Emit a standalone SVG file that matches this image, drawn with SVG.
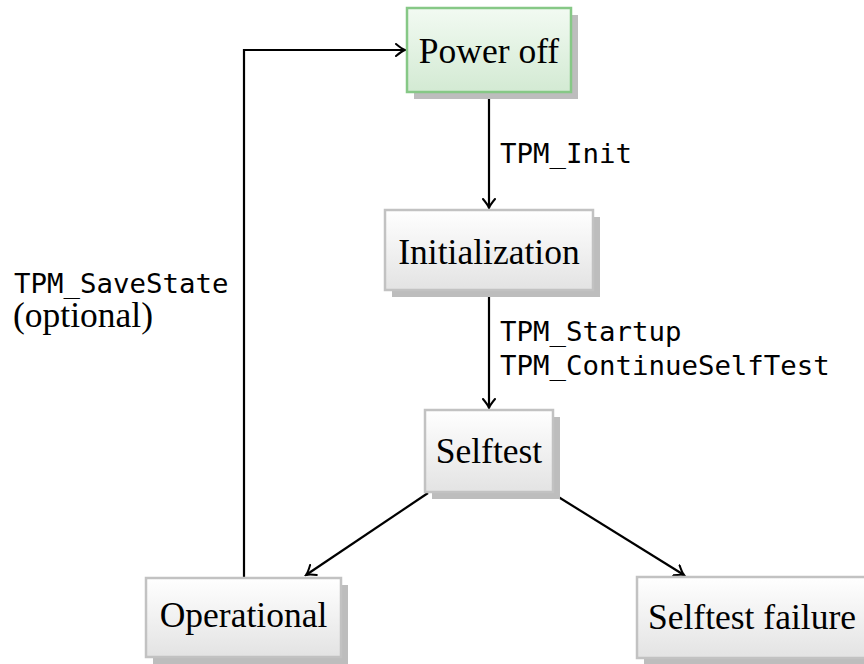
<svg xmlns="http://www.w3.org/2000/svg" width="864" height="664" viewBox="0 0 864 664">
<defs>
<linearGradient id="gGray" x1="0" y1="0" x2="0" y2="1">
<stop offset="0" stop-color="#ffffff"/><stop offset="1" stop-color="#e3e3e3"/>
</linearGradient>
<linearGradient id="gGreen" x1="0" y1="0" x2="0" y2="1">
<stop offset="0" stop-color="#f2faf2"/><stop offset="1" stop-color="#d3ead3"/>
</linearGradient>
<marker id="arr" viewBox="-10 -7 12 14" refX="0" refY="0" markerWidth="12" markerHeight="14" markerUnits="userSpaceOnUse" orient="auto">
<path d="M-9,-6 Q-3,-1 0,0 Q-3,1 -9,6" fill="none" stroke="#000" stroke-width="2" stroke-linecap="round"/>
</marker>
</defs>
<style>
.shadow{fill:#bdbdbd}
.box{fill:url(#gGray);stroke:#c2c2c2;stroke-width:2.5}
.green{fill:url(#gGreen);stroke:#86c886;stroke-width:2.5}
.lbl{font-family:"Liberation Serif",serif;font-size:35.5px;fill:#000;text-anchor:middle}
.mono{font-family:"DejaVu Sans Mono",monospace;font-size:27.4px;fill:#000}
.serif{font-family:"Liberation Serif",serif;font-size:35.5px;fill:#000}
.edge{fill:none;stroke:#000;stroke-width:2.2;marker-end:url(#arr)}
</style>
<g id="connectors">
<path class="edge" d="M489,93 V208"/>
<path class="edge" d="M489,291 V408"/>
<path class="edge" d="M428,493 L306,575"/>
<path class="edge" d="M552,493 L684,575"/>
<path class="edge" d="M244,577 V50 H405"/>
<text class="mono" x="500" y="163">TPM_Init</text>
<text class="mono" x="500" y="341">TPM_Startup</text>
<text class="mono" x="500" y="375">TPM_ContinueSelfTest</text>
<text class="mono" x="14" y="293">TPM_SaveState</text>
<text class="serif" x="13" y="327">(optional)</text>
</g>
<g id="poweroff">
<rect class="shadow" x="414" y="15" width="164" height="84"/>
<rect class="green" x="407" y="8" width="164" height="84"/>
<text class="lbl" x="489" y="63">Power off</text>
</g>
<g id="initialization">
<rect class="shadow" x="392" y="217" width="208" height="80"/>
<rect class="box" x="385" y="210" width="208" height="80"/>
<text class="lbl" x="489" y="264">Initialization</text>
</g>
<g id="selftest">
<rect class="shadow" x="432" y="417" width="128" height="82"/>
<rect class="box" x="425" y="410" width="128" height="82"/>
<text class="lbl" x="489" y="463">Selftest</text>
</g>
<g id="operational">
<rect class="shadow" x="153" y="585" width="195" height="79"/>
<rect class="box" x="146" y="578" width="195" height="79"/>
<text class="lbl" x="243.5" y="627">Operational</text>
</g>
<g id="selftestfailure">
<rect class="shadow" x="644" y="584" width="231" height="81"/>
<rect class="box" x="637" y="577" width="231" height="81"/>
<text class="lbl" x="752" y="629">Selftest failure</text>
</g>
</svg>
